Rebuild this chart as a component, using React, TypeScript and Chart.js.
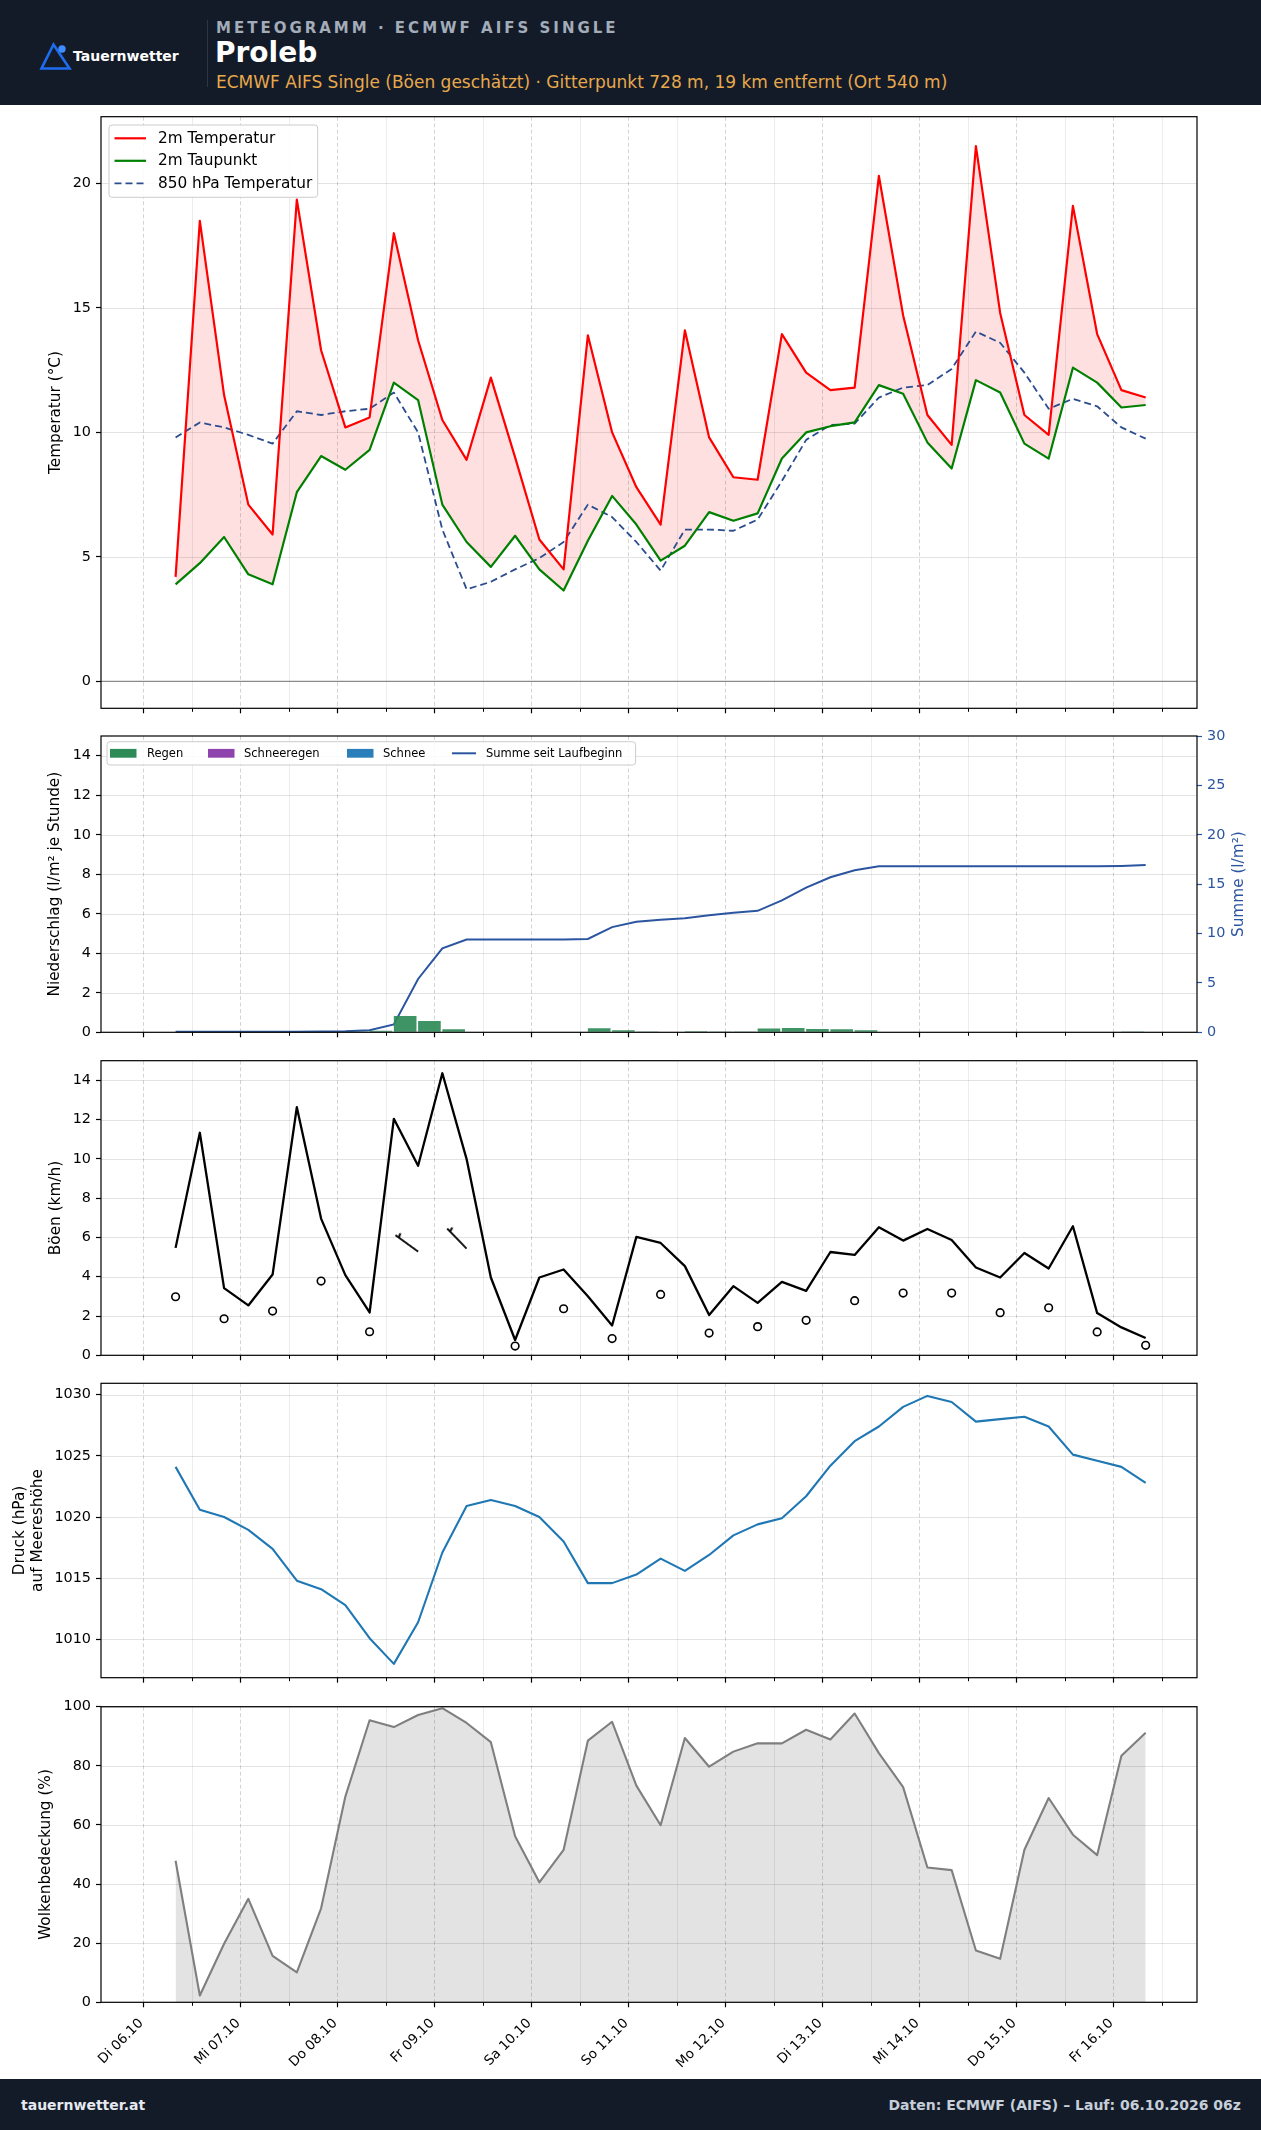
import { useEffect, useRef } from "react";
import { Chart, registerables } from "chart.js";

Chart.register(...registerables);

const FONT = "'DejaVu Sans', sans-serif";

// Forecast steps in hours after Di 06.10 00:00 (local time)
const hours = [8, 14, 20, 26, 32, 38, 44, 50, 56, 62, 68, 74, 80, 86, 92, 98, 104, 110, 116, 122, 128, 134, 140, 146, 152, 158, 164, 170, 176, 182, 188, 194, 200, 206, 212, 218, 224, 230, 236, 242, 248];

const dayTickHours = [0, 24, 48, 72, 96, 120, 144, 168, 192, 216, 240];
const halfDayTickHours = [12, 36, 60, 84, 108, 132, 156, 180, 204, 228, 252];
const dayLabels = ["Di 06.10", "Mi 07.10", "Do 08.10", "Fr 09.10", "Sa 10.10", "So 11.10", "Mo 12.10", "Di 13.10", "Mi 14.10", "Do 15.10", "Fr 16.10"];

// Temperatures (°C)
const temp2m = [4.2, 18.5, 11.5, 7.1, 5.9, 19.35, 13.3, 10.2, 10.6, 18.0, 13.7, 10.5, 8.9, 12.2, 9.0, 5.7, 4.5, 13.9, 10.0, 7.8, 6.3, 14.1, 9.8, 8.2, 8.1, 13.95, 12.4, 11.7, 11.8, 20.3, 14.7, 10.7, 9.5, 21.5, 14.8, 10.7, 9.9, 19.1, 13.95, 11.7, 11.4];
const dew2m = [3.9, 4.75, 5.8, 4.3, 3.9, 7.6, 9.05, 8.5, 9.3, 12.0, 11.3, 7.1, 5.6, 4.6, 5.85, 4.5, 3.65, 5.65, 7.45, 6.3, 4.85, 5.45, 6.8, 6.45, 6.75, 8.95, 10.0, 10.25, 10.4, 11.9, 11.55, 9.6, 8.55, 12.1, 11.6, 9.55, 8.95, 12.6, 12.0, 11.0, 11.1];
const temp850 = [9.8, 10.4, 10.2, 9.9, 9.55, 10.85, 10.7, 10.85, 10.95, 11.6, 10.0, 6.1, 3.7, 4.0, 4.5, 4.95, 5.6, 7.1, 6.6, 5.6, 4.45, 6.1, 6.1, 6.05, 6.5, 8.05, 9.7, 10.3, 10.35, 11.4, 11.8, 11.9, 12.55, 14.05, 13.6, 12.4, 10.95, 11.35, 11.05, 10.2, 9.75];

// Precipitation: hourly rate for the 6 h step starting at each time, and running total
const precipRate = [0, 0, 0, 0, 0, 0, 0, 0.01, 0.08, 0.82, 0.57, 0.16, 0, 0, 0, 0, 0, 0.21, 0.11, 0.04, 0.03, 0.05, 0.04, 0.04, 0.19, 0.22, 0.17, 0.16, 0.1, 0, 0, 0, 0, 0, 0, 0, 0, 0, 0, 0.04, 0];
const precipSum = [0.05, 0.05, 0.05, 0.05, 0.05, 0.05, 0.07, 0.1, 0.2, 0.8, 5.4, 8.5, 9.4, 9.4, 9.4, 9.4, 9.4, 9.45, 10.65, 11.2, 11.4, 11.55, 11.85, 12.1, 12.3, 13.35, 14.65, 15.7, 16.4, 16.8, 16.8, 16.8, 16.8, 16.8, 16.8, 16.8, 16.8, 16.8, 16.8, 16.85, 16.95];

// Gusts (km/h)
const gusts = [5.47, 11.33, 3.42, 2.54, 4.11, 12.63, 6.96, 4.08, 2.18, 12.04, 9.65, 14.36, 9.99, 3.96, 0.78, 3.96, 4.37, 3.01, 1.52, 6.03, 5.72, 4.54, 2.05, 3.52, 2.67, 3.74, 3.28, 5.26, 5.11, 6.52, 5.84, 6.43, 5.87, 4.47, 3.96, 5.21, 4.42, 6.57, 2.15, 1.42, 0.88];

// Mean wind every 12 h (km/h) and direction it blows from (deg)
const windHours = [8, 20, 32, 44, 56, 68, 80, 92, 104, 116, 128, 140, 152, 164, 176, 188, 200, 212, 224, 236, 248];
const windSpeed = [2.98, 1.86, 2.25, 3.78, 1.2, 5.28, 5.43, 0.47, 2.37, 0.85, 3.1, 1.13, 1.46, 1.78, 2.78, 3.17, 3.17, 2.17, 2.42, 1.19, 0.51];
const windDir: (number | null)[] = [null, null, null, null, null, 306, 316, null, null, null, null, null, null, null, null, null, null, null, null, null, null];

// Mean sea level pressure (hPa)
const pressure = [1024.1, 1020.6, 1020.0, 1018.95, 1017.4, 1014.8, 1014.1, 1012.8, 1010.1, 1008.0, 1011.4, 1017.1, 1020.9, 1021.4, 1020.9, 1020.0, 1018.0, 1014.6, 1014.6, 1015.3, 1016.6, 1015.6, 1016.9, 1018.5, 1019.4, 1019.9, 1021.7, 1024.2, 1026.2, 1027.4, 1029.0, 1029.9, 1029.4, 1027.8, 1028.0, 1028.2, 1027.4, 1025.1, 1024.6, 1024.1, 1022.8];

// Cloud cover (%)
const cloudCover = [47.9, 2.3, 19.8, 35.0, 15.7, 10.1, 31.8, 69.6, 95.4, 93.1, 97.2, 99.5, 94.5, 88.0, 56.2, 40.6, 51.6, 88.5, 94.9, 73.3, 59.9, 89.4, 79.7, 84.8, 87.6, 87.6, 92.2, 88.9, 97.7, 84.3, 72.8, 45.6, 44.7, 17.5, 14.7, 51.6, 69.1, 56.7, 49.8, 83.4, 91.2];

// Axis ticks
const tempTicks = [0, 5, 10, 15, 20];
const precipTicks = [0, 2, 4, 6, 8, 10, 12, 14];
const sumTicks = [0, 5, 10, 15, 20, 25, 30];
const gustTicks = [0, 2, 4, 6, 8, 10, 12, 14];
const pressureTicks = [1010, 1015, 1020, 1025, 1030];
const cloudTicks = [0, 20, 40, 60, 80, 100];

const precipLegend = [
  { label: "Regen", color: "#2e8b57" },
  { label: "Schneeregen", color: "#8e44ad" },
  { label: "Schnee", color: "#2a7fba" },
];

// Layout
const PAGE_W = 1261;
const PLOT_LEFT = 101;
const PLOT_RIGHT = 1197;
const Y_AXIS_W = 60;
const RIGHT_AXIS_W = 40;
const X_MIN = -10.45;
const X_MAX = 260.7;
const BAR_SPAN = 5.6;

const TICK_FONT = 14.4;
const LABEL_FONT = 15.3;
const SUM_COLOR = "#2b55a0";

interface PanelBox { canvasTop: number; canvasBottom: number; top: number; bottom: number; }

const boxes: PanelBox[] = [
  { canvasTop: 105, canvasBottom: 722, top: 116.7, bottom: 708.3 },
  { canvasTop: 722, canvasBottom: 1046, top: 736, bottom: 1032.3 },
  { canvasTop: 1046, canvasBottom: 1369, top: 1060.7, bottom: 1355.3 },
  { canvasTop: 1369, canvasBottom: 1692, top: 1383.3, bottom: 1677.7 },
  { canvasTop: 1692, canvasBottom: 2079, top: 1706.7, bottom: 2002.3 },
];

const pts = (ys: number[]) => hours.map((h, i) => ({ x: h, y: ys[i] }));

function seg(ctx: CanvasRenderingContext2D, x1: number, y1: number, x2: number, y2: number) {
  ctx.beginPath();
  ctx.moveTo(x1, y1);
  ctx.lineTo(x2, y2);
  ctx.stroke();
}

function legendFrame(ctx: CanvasRenderingContext2D, x: number, y: number, w: number, h: number) {
  ctx.save();
  ctx.beginPath();
  ctx.roundRect(x, y, w, h, 3);
  ctx.fillStyle = "rgba(255,255,255,0.85)";
  ctx.fill();
  ctx.strokeStyle = "#cccccc";
  ctx.lineWidth = 1;
  ctx.stroke();
  ctx.restore();
}

interface DecorCfg {
  yTicks: number[];
  yTitle: { lines: string[]; xs: number[] };
  rightTitle?: { text: string; x: number; color: string };
  zeroLine?: boolean;
  xLabels?: boolean;
  legend?: (chart: any) => void;
}

function decorPlugin(cfg: DecorCfg) {
  return {
    id: "panelDecor",
    beforeDatasetsDraw(chart: any) {
      const { ctx, chartArea: a } = chart;
      const xs = chart.scales.x;
      const ys = chart.scales.y;
      ctx.save();
      ctx.beginPath();
      ctx.rect(a.left, a.top, a.right - a.left, a.bottom - a.top);
      ctx.clip();
      ctx.lineWidth = 1;
      ctx.strokeStyle = "rgba(0,0,0,0.075)";
      for (const h of halfDayTickHours) {
        const x = Math.round(xs.getPixelForValue(h)) + 0.5;
        seg(ctx, x, a.top, x, a.bottom);
      }
      ctx.setLineDash([4, 2.5]);
      ctx.strokeStyle = "rgba(0,0,0,0.17)";
      for (const h of dayTickHours) {
        const x = Math.round(xs.getPixelForValue(h)) + 0.5;
        seg(ctx, x, a.top, x, a.bottom);
      }
      ctx.setLineDash([]);
      ctx.strokeStyle = "rgba(0,0,0,0.11)";
      for (const v of cfg.yTicks) {
        const y = Math.round(ys.getPixelForValue(v)) + 0.5;
        seg(ctx, a.left, y, a.right, y);
      }
      if (cfg.zeroLine) {
        ctx.strokeStyle = "#8a8a8a";
        ctx.lineWidth = 1.2;
        const y = ys.getPixelForValue(0);
        seg(ctx, a.left, y, a.right, y);
      }
      ctx.restore();
    },
    afterDatasetsDraw(chart: any) {
      const { ctx, chartArea: a } = chart;
      const xs = chart.scales.x;
      ctx.save();
      ctx.strokeStyle = "#000";
      ctx.lineWidth = 1.2;
      ctx.strokeRect(a.left, a.top, a.right - a.left, a.bottom - a.top);
      for (const h of dayTickHours) {
        const x = Math.round(xs.getPixelForValue(h)) + 0.5;
        seg(ctx, x, a.bottom, x, a.bottom + 5);
      }
      ctx.lineWidth = 1;
      for (const h of halfDayTickHours) {
        const x = Math.round(xs.getPixelForValue(h)) + 0.5;
        if (x < a.right) seg(ctx, x, a.bottom, x, a.bottom + 3.5);
      }
      if (cfg.legend) cfg.legend(chart);
      ctx.fillStyle = "#000";
      ctx.font = `${LABEL_FONT}px ${FONT}`;
      ctx.textAlign = "center";
      ctx.textBaseline = "middle";
      const cy = (a.top + a.bottom) / 2;
      cfg.yTitle.lines.forEach((t, k) => {
        ctx.save();
        ctx.translate(cfg.yTitle.xs[k], cy);
        ctx.rotate(-Math.PI / 2);
        ctx.fillText(t, 0, 0);
        ctx.restore();
      });
      if (cfg.rightTitle) {
        ctx.save();
        ctx.fillStyle = cfg.rightTitle.color;
        ctx.translate(cfg.rightTitle.x, cy);
        ctx.rotate(-Math.PI / 2);
        ctx.fillText(cfg.rightTitle.text, 0, 0);
        ctx.restore();
      }
      if (cfg.xLabels) {
        ctx.font = `13.5px ${FONT}`;
        ctx.textAlign = "right";
        ctx.textBaseline = "alphabetic";
        dayTickHours.forEach((h, k) => {
          const x = xs.getPixelForValue(h);
          ctx.save();
          ctx.translate(x + 0.5, a.bottom + 21.5);
          ctx.rotate(-Math.PI / 4);
          ctx.fillText(dayLabels[k], 0, 0);
          ctx.restore();
        });
      }
      ctx.restore();
    },
  };
}

function yScale(min: number, max: number, ticks: number[], extra: any = {}) {
  const color = extra.color || "#000";
  return {
    type: "linear",
    position: extra.position || "left",
    min,
    max,
    afterBuildTicks: (s: any) => {
      s.ticks = ticks.map((v) => ({ value: v }));
    },
    afterFit: (s: any) => {
      s.width = extra.width || Y_AXIS_W;
      s.paddingTop = 0;
      s.paddingBottom = 0;
    },
    ticks: {
      font: { family: FONT, size: TICK_FONT },
      color,
      padding: 5,
      autoSkip: false,
      callback: (v: number) => String(v),
    },
    grid: { drawOnChartArea: false, tickLength: 5, tickColor: color, tickWidth: 1.2 },
    border: { display: false },
  };
}

const xScale = { type: "linear", min: X_MIN, max: X_MAX, display: false, offset: false };

function baseOptions(box: PanelBox, rightW = 0) {
  return {
    responsive: false,
    maintainAspectRatio: false,
    animation: false,
    devicePixelRatio: 1,
    events: [],
    layout: {
      padding: {
        left: PLOT_LEFT - Y_AXIS_W,
        right: PAGE_W - PLOT_RIGHT - rightW,
        top: box.top - box.canvasTop,
        bottom: box.canvasBottom - box.bottom,
      },
    },
    plugins: {
      legend: { display: false },
      tooltip: { enabled: false },
      filler: { drawTime: "beforeDatasetsDraw" },
    },
  };
}

function lineSet(label: string, ys: number[], color: string, extra: any = {}) {
  return {
    type: "line",
    label,
    data: pts(ys),
    borderColor: color,
    borderWidth: 2.2,
    pointRadius: 0,
    tension: 0,
    fill: false,
    borderJoinStyle: "round",
    ...extra,
  };
}

function tempChart(canvas: HTMLCanvasElement) {
  const box = boxes[0];
  const drawLegend = (chart: any) => {
    const { ctx, chartArea: a } = chart;
    const x0 = a.left + 8;
    const y0 = a.top + 8.3;
    legendFrame(ctx, x0, y0, 208.7, 72.3);
    ctx.save();
    ctx.font = `${LABEL_FONT}px ${FONT}`;
    ctx.textAlign = "left";
    ctx.textBaseline = "middle";
    chart.data.datasets.forEach((ds: any, k: number) => {
      const y = y0 + 13.3 + k * 22.5;
      ctx.strokeStyle = ds.borderColor;
      ctx.lineWidth = ds.borderWidth;
      ctx.setLineDash(ds.borderDash || []);
      seg(ctx, a.left + 13.5, y, a.left + 45, y);
      ctx.setLineDash([]);
      ctx.fillStyle = "#000";
      ctx.fillText(ds.label, a.left + 57, y + 0.5);
    });
    ctx.restore();
  };
  return new Chart(canvas, {
    type: "line",
    data: {
      datasets: [
        lineSet("2m Temperatur", temp2m, "#ff0000", { fill: { target: 1 }, backgroundColor: "rgba(255,0,0,0.12)" }),
        lineSet("2m Taupunkt", dew2m, "#008000"),
        lineSet("850 hPa Temperatur", temp850, "#2b4c8e", { borderDash: [7, 4], borderWidth: 1.8 }),
      ],
    },
    options: {
      ...baseOptions(box),
      scales: { x: xScale, y: yScale(-1.08, 22.68, tempTicks) },
    } as any,
    plugins: [decorPlugin({ yTicks: tempTicks, yTitle: { lines: ["Temperatur (°C)"], xs: [56] }, zeroLine: true, legend: drawLegend })],
  } as any);
}

function precipChart(canvas: HTMLCanvasElement) {
  const box = boxes[1];
  const drawLegend = (chart: any) => {
    const { ctx, chartArea: a } = chart;
    const x0 = a.left + 6;
    const y0 = a.top + 5.7;
    legendFrame(ctx, x0, y0, 528.6, 23.3);
    ctx.save();
    ctx.font = `11.5px ${FONT}`;
    ctx.textAlign = "left";
    ctx.textBaseline = "middle";
    const y = y0 + 11.6;
    const patchX = [9, 107, 246];
    const textX = [46, 143, 282];
    precipLegend.forEach((item, k) => {
      ctx.fillStyle = item.color;
      ctx.fillRect(a.left + patchX[k], y - 4.4, 26.5, 8.8);
      ctx.fillStyle = "#000";
      ctx.fillText(item.label, a.left + textX[k], y + 0.5);
    });
    const sumDs = chart.data.datasets[1];
    ctx.strokeStyle = sumDs.borderColor;
    ctx.lineWidth = 2;
    seg(ctx, a.left + 351, y, a.left + 375, y);
    ctx.fillStyle = "#000";
    ctx.fillText(sumDs.label, a.left + 385, y + 0.5);
    ctx.restore();
  };
  return new Chart(canvas, {
    type: "bar",
    data: {
      datasets: [
        {
          type: "bar",
          label: "Regen",
          data: precipRate.map((v, i) => ({ x: hours[i] + BAR_SPAN / 2, y: v })),
          backgroundColor: "rgba(46,139,87,0.92)",
          borderWidth: 0,
          barPercentage: BAR_SPAN / 6,
          categoryPercentage: 1,
          yAxisID: "y",
        },
        {
          type: "line",
          label: "Summe seit Laufbeginn",
          data: pts(precipSum),
          borderColor: SUM_COLOR,
          borderWidth: 2,
          pointRadius: 0,
          tension: 0,
          fill: false,
          yAxisID: "y1",
        },
      ],
    },
    options: {
      ...baseOptions(box, RIGHT_AXIS_W),
      scales: {
        x: xScale,
        y: yScale(0, 15, precipTicks),
        y1: yScale(0, 30, sumTicks, { position: "right", color: SUM_COLOR, width: RIGHT_AXIS_W }),
      },
    } as any,
    plugins: [
      decorPlugin({
        yTicks: precipTicks,
        yTitle: { lines: ["Niederschlag (l/m² je Stunde)"], xs: [55] },
        rightTitle: { text: "Summe (l/m²)", x: 1239, color: SUM_COLOR },
        legend: drawLegend,
      }),
    ],
  } as any);
}

function makeBarbImage() {
  const size = 64;
  const c = document.createElement("canvas");
  c.width = size;
  c.height = size;
  const g = c.getContext("2d")!;
  const cx = size / 2;
  const cy = size / 2;
  g.strokeStyle = "#000";
  g.lineWidth = 1.8;
  g.beginPath();
  g.moveTo(cx, cy);
  g.lineTo(cx, cy - 28);
  g.stroke();
  g.beginPath();
  g.moveTo(cx, cy - 24);
  g.lineTo(cx + 4.4, cy - 25);
  g.stroke();
  return c;
}

function gustChart(canvas: HTMLCanvasElement) {
  const box = boxes[2];
  const barb = makeBarbImage();
  const hasBarb = (i: number) => windDir[i] !== null && windSpeed[i] >= 5;
  return new Chart(canvas, {
    type: "line",
    data: {
      datasets: [
        lineSet("Böen", gusts, "#000000", { borderWidth: 2.3 }),
        {
          type: "line",
          label: "Wind",
          data: windHours.map((h, i) => ({ x: h, y: windSpeed[i] })),
          showLine: false,
          pointStyle: (c: any) => (hasBarb(c.dataIndex) ? barb : "circle"),
          pointRotation: (c: any) => windDir[c.dataIndex] ?? 0,
          pointRadius: 3.8,
          pointBorderWidth: 1.6,
          pointBorderColor: "#000",
          pointBackgroundColor: "rgba(0,0,0,0)",
        },
      ],
    },
    options: {
      ...baseOptions(box),
      scales: { x: xScale, y: yScale(0, 15, gustTicks) },
    } as any,
    plugins: [decorPlugin({ yTicks: gustTicks, yTitle: { lines: ["Böen (km/h)"], xs: [56] } })],
  } as any);
}

function pressureChart(canvas: HTMLCanvasElement) {
  const box = boxes[3];
  return new Chart(canvas, {
    type: "line",
    data: { datasets: [lineSet("Druck", pressure, "#1f77b4", { borderWidth: 2.1 })] },
    options: {
      ...baseOptions(box),
      scales: { x: xScale, y: yScale(1006.87, 1030.93, pressureTicks) },
    } as any,
    plugins: [decorPlugin({ yTicks: pressureTicks, yTitle: { lines: ["Druck (hPa)", "auf Meereshöhe"], xs: [20, 38.5] } })],
  } as any);
}

function cloudChart(canvas: HTMLCanvasElement) {
  const box = boxes[4];
  return new Chart(canvas, {
    type: "line",
    data: {
      datasets: [
        lineSet("Wolkenbedeckung", cloudCover, "#7f7f7f", { fill: "origin", backgroundColor: "rgba(128,128,128,0.22)", borderWidth: 2.1 }),
      ],
    },
    options: {
      ...baseOptions(box),
      scales: { x: xScale, y: yScale(0, 100, cloudTicks) },
    } as any,
    plugins: [decorPlugin({ yTicks: cloudTicks, yTitle: { lines: ["Wolkenbedeckung (%)"], xs: [46] }, xLabels: true })],
  } as any);
}

const builders = [tempChart, precipChart, gustChart, pressureChart, cloudChart];

const abs = (extra: any) => ({ position: "absolute" as const, whiteSpace: "nowrap" as const, lineHeight: "normal", fontFamily: FONT, ...extra });

export default function App() {
  const r0 = useRef<HTMLCanvasElement>(null);
  const r1 = useRef<HTMLCanvasElement>(null);
  const r2 = useRef<HTMLCanvasElement>(null);
  const r3 = useRef<HTMLCanvasElement>(null);
  const r4 = useRef<HTMLCanvasElement>(null);
  const refs = [r0, r1, r2, r3, r4];

  useEffect(() => {
    Chart.defaults.font.family = FONT;
    const charts = refs.map((r, i) => builders[i](r.current as HTMLCanvasElement));
    return () => charts.forEach((c) => c.destroy());
  }, []);

  return (
    <div style={{ position: "absolute", left: 0, top: 0, width: PAGE_W, height: 2130, background: "#ffffff", overflow: "hidden" }}>
      <div style={{ position: "absolute", left: 0, top: 0, width: PAGE_W, height: 105, background: "#131b28" }}>
        <svg width={90} height={105} style={{ position: "absolute", left: 0, top: 0 }}>
          <polygon points="53.5,44.5 41.5,68.5 69.5,68.5" fill="none" stroke="#1e6cf0" strokeWidth={2.6} />
          <circle cx={62} cy={49} r={3.7} fill="#3f8cff" />
        </svg>
        <div style={abs({ left: 73, top: 48, fontSize: 14, fontWeight: 700, color: "#ffffff" })}>Tauernwetter</div>
        <div style={{ position: "absolute", left: 207, top: 20, width: 1, height: 67, background: "#2c3646" }} />
        <div style={abs({ left: 216, top: 19, fontSize: 15, fontWeight: 700, letterSpacing: 3, color: "#a3acb9" })}>METEOGRAMM · ECMWF AIFS SINGLE</div>
        <div style={abs({ left: 215, top: 36, fontSize: 28, fontWeight: 700, color: "#ffffff" })}>Proleb</div>
        <div style={abs({ left: 216, top: 71.5, fontSize: 17, color: "#e8a84c" })}>ECMWF AIFS Single (Böen geschätzt) · Gitterpunkt 728 m, 19 km entfernt (Ort 540 m)</div>
      </div>
      {boxes.map((b, i) => (
        <canvas
          key={i}
          ref={refs[i]}
          width={PAGE_W}
          height={b.canvasBottom - b.canvasTop}
          style={{ position: "absolute", left: 0, top: b.canvasTop, width: PAGE_W, height: b.canvasBottom - b.canvasTop }}
        />
      ))}
      <div style={{ position: "absolute", left: 0, top: 2079, width: PAGE_W, height: 51, background: "#131b28" }}>
        <div style={abs({ left: 21, top: 18, fontSize: 14, fontWeight: 700, color: "#e6eaf0" })}>tauernwetter.at</div>
        <div style={abs({ right: 20, top: 18, fontSize: 14, fontWeight: 700, color: "#c5ced9" })}>Daten: ECMWF (AIFS) – Lauf: 06.10.2026 06z</div>
      </div>
    </div>
  );
}
